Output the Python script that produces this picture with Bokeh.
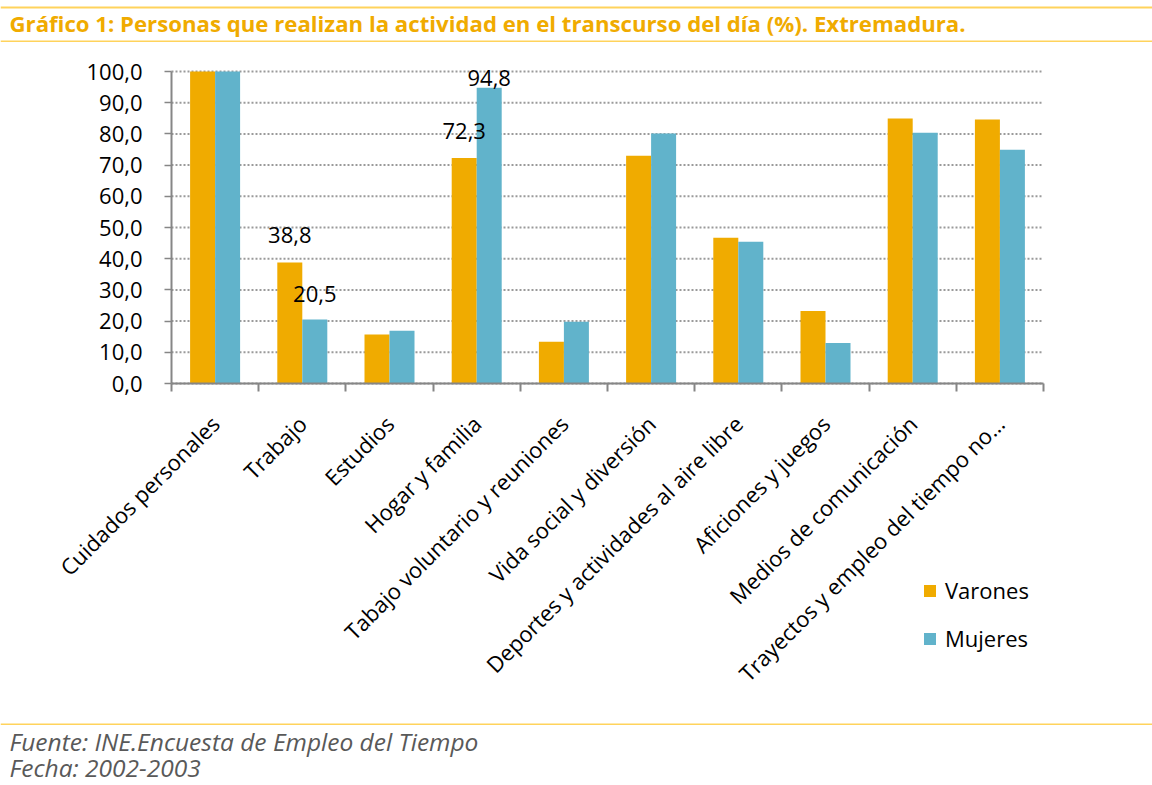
import math
from bokeh.plotting import figure
from bokeh.models import (Range1d, FixedTicker, ColumnDataSource, LabelSet, Label,
                          BoxAnnotation, Legend, LegendItem, LinearAxis)
from bokeh.core.properties import value
from bokeh.embed import file_html
from bokeh.resources import INLINE

# ---------------- data ----------------
categories = ["Cuidados personales", "Trabajo", "Estudios", "Hogar y familia",
              "Tabajo voluntario y reuniones", "Vida social y diversión",
              "Deportes y actividades al aire libre", "Aficiones y juegos",
              "Medios de comunicación", "Trayectos y empleo del tiempo no…"]
varones = [100.0, 38.8, 15.7, 72.3, 13.4, 73.0, 46.7, 23.2, 84.9, 84.6]
mujeres = [100.0, 20.5, 16.9, 94.8, 19.8, 80.1, 45.4, 13.0, 80.4, 74.9]
series_names = ["Varones", "Mujeres"]
y_ticks = [0, 10, 20, 30, 40, 50, 60, 70, 80, 90, 100]
# data labels shown: (category index, series)
label_cats = [1, 1, 3, 3]
label_series = ["Varones", "Mujeres", "Varones", "Mujeres"]

title_text = "Gráfico 1: Personas que realizan la actividad en el transcurso del día (%). Extremadura."
source_text = "Fuente: INE.Encuesta de Empleo del Tiempo"
date_text = "Fecha: 2002-2003"

# ---------------- style ----------------
ORANGE = "#F0AB00"
BLUE = "#61B3CB"
YELLOW = "#FFD35C"
AXIS = "#868686"
GRID = "#9A9A9A"
FONT = "Open Sans"
W, H = 1152, 785
FL, FR, FT, FB = 171, 1043, 71, 383           # plot area in canvas px
NCAT = len(categories)
YMAX = 100
PXX = (FR - FL) / NCAT
PXY = (FB - FT) / YMAX
BW = 0.2867                                   # bar width in category units
label_lift = [19, 18, 19, 2]                  # px above the bar top
TITLE_SIZE = 22.2
FOOT_SIZE = 24.5


def sx(X):
    """canvas x -> frame screen x"""
    return X


def sy(Y):
    """canvas y (from top) -> frame screen y (from bottom)"""
    return H - Y


def mid_from_baseline(base, size):
    """vertical middle of the text box for a wanted baseline (Open Sans metrics)"""
    return base - (1.069 - 1.362 / 2) * size


p = figure(width=W, height=H, output_backend="svg", toolbar_location=None,
           x_range=Range1d(-FL / PXX, NCAT + (W - FR) / PXX),
           y_range=Range1d(-(H - FB) / PXY, YMAX + FT / PXY),
           x_axis_location=None, y_axis_location=None,
           min_border=0, min_border_left=0, min_border_right=0,
           min_border_top=0, min_border_bottom=0,
           background_fill_color="white", border_fill_color="white",
           outline_line_color=None)
p.xgrid.visible = False
p.ygrid.visible = False

centers = [i + 0.5 for i in range(NCAT)]

# dotted horizontal gridlines across the plot area
p.segment(x0=[0] * len(y_ticks), x1=[NCAT] * len(y_ticks), y0=y_ticks, y1=y_ticks,
          line_color=GRID, line_width=2, line_dash="2 2")

src = ColumnDataSource(dict(
    xv=[c - BW / 2 for c in centers],
    xm=[c + BW / 2 for c in centers],
    v=varones, m=mujeres))
rv = p.vbar(x="xv", top="v", bottom=0, width=BW, source=src,
            fill_color=ORANGE, line_color=None)
rm = p.vbar(x="xm", top="m", bottom=0, width=BW, source=src,
            fill_color=BLUE, line_color=None)

# ---------------- axes ----------------
xa = LinearAxis(fixed_location=0, bounds=(0, NCAT))
xa.ticker = FixedTicker(ticks=centers, minor_ticks=list(range(NCAT + 1)))
xa.major_label_overrides = {c: cat for c, cat in zip(centers, categories)}
xa.major_label_orientation = math.pi / 4
xa.major_tick_line_color = None
xa.major_tick_out = 0
xa.major_tick_in = 0
xa.minor_tick_line_color = AXIS
xa.minor_tick_line_width = 2
xa.minor_tick_out = 8
xa.minor_tick_in = 0
xa.axis_line_color = AXIS
xa.axis_line_width = 2
xa.major_label_standoff = 28
xa.major_label_text_font = FONT
xa.major_label_text_font_size = "22px"
xa.major_label_text_color = "black"
p.add_layout(xa, "below")

ya = LinearAxis(fixed_location=0, bounds=(0, YMAX))
ya.ticker = FixedTicker(ticks=y_ticks, minor_ticks=[])
ya.major_label_overrides = {t: f"{t:.1f}".replace(".", ",") for t in y_ticks}
ya.major_tick_out = 7
ya.major_tick_in = 0
ya.major_tick_line_color = AXIS
ya.major_tick_line_width = 1.5
ya.minor_tick_line_color = None
ya.axis_line_color = AXIS
ya.axis_line_width = 2
ya.major_label_standoff = 22
ya.major_label_text_font = FONT
ya.major_label_text_font_size = "22px"
ya.major_label_text_color = "black"
p.add_layout(ya, "left")

# ---------------- data labels ----------------
lx, ly, lt = [], [], []
for ci, s in zip(label_cats, label_series):
    if s == "Varones":
        lx.append(centers[ci] - BW / 2)
        val = varones[ci]
    else:
        lx.append(centers[ci] + BW / 2)
        val = mujeres[ci]
    ly.append(val)
    lt.append(f"{val:.1f}".replace(".", ","))
lsrc = ColumnDataSource(dict(x=lx, y=ly, text=lt, dy=label_lift))
p.add_layout(LabelSet(x="x", y="y", text="text", y_offset="dy", source=lsrc,
                      text_align="center", text_baseline="alphabetic",
                      text_font=value(FONT), text_font_size=value("22px"),
                      text_color="black"))

# ---------------- legend ----------------
legend = Legend(items=[LegendItem(label=series_names[0], renderers=[rv]),
                       LegendItem(label=series_names[1], renderers=[rm])],
                location=(sx(922), sy(653)), orientation="vertical",
                margin=0, padding=0, spacing=18, label_standoff=8,
                glyph_width=15, glyph_height=15,
                border_line_color=None, background_fill_alpha=0,
                label_text_font=FONT, label_text_font_size="22px",
                label_text_color="black")
p.add_layout(legend)

# ---------------- frame decorations ----------------
def hline(y0, y1):
    return BoxAnnotation(left=0, right=W, top=sy(y0), bottom=sy(y1),
                         left_units="screen", right_units="screen",
                         top_units="screen", bottom_units="screen",
                         fill_color=YELLOW, fill_alpha=1, line_color=None)

for a, b in [(6, 8), (40, 41.5), (723, 724.5)]:
    p.add_layout(hline(a, b))

p.add_layout(Label(x=sx(9), y=sy(mid_from_baseline(32, TITLE_SIZE)),
                   x_units="screen", y_units="screen",
                   text=title_text, text_font=FONT, text_font_style="bold",
                   text_font_size=f"{TITLE_SIZE}px", text_color=ORANGE,
                   text_baseline="middle", text_align="left"))
p.add_layout(Label(x=sx(9), y=sy(mid_from_baseline(751, FOOT_SIZE)),
                   x_units="screen", y_units="screen",
                   text=source_text, text_font=FONT, text_font_style="italic",
                   text_font_size=f"{FOOT_SIZE}px", text_color="#595959",
                   text_baseline="middle", text_align="left"))
p.add_layout(Label(x=sx(9), y=sy(mid_from_baseline(777, FOOT_SIZE)),
                   x_units="screen", y_units="screen",
                   text=date_text, text_font=FONT, text_font_style="italic",
                   text_font_size=f"{FOOT_SIZE}px", text_color="#595959",
                   text_baseline="middle", text_align="left"))

open("out.html", "w").write(file_html(p, INLINE))
